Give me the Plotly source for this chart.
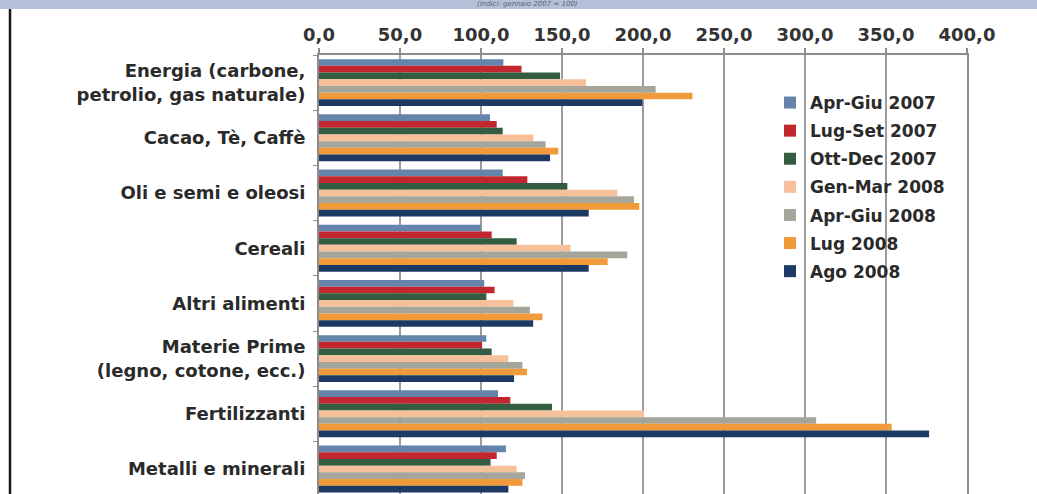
import plotly.graph_objects as go

categories = [
    "Energia (carbone,<br>petrolio, gas naturale)",
    "Cacao, Tè, Caffè",
    "Oli e semi e oleosi",
    "Cereali",
    "Altri alimenti",
    "Materie Prime<br>(legno, cotone, ecc.)",
    "Fertilizzanti",
    "Metalli e minerali",
]

series_names = ["Apr-Giu 2007", "Lug-Set 2007", "Ott-Dec 2007", "Gen-Mar 2008",
                "Apr-Giu 2008", "Lug 2008", "Ago 2008"]

apr_giu_2007 = [113.8, 105.6, 113.4, 99.8, 102.0, 103.3, 110.5, 115.4]
lug_set_2007 = [125.0, 109.7, 128.6, 106.6, 108.4, 100.7, 118.1, 109.7]
ott_dec_2007 = [148.8, 113.4, 153.3, 122.0, 103.3, 106.6, 143.8, 105.9]
gen_mar_2008 = [164.8, 132.3, 184.2, 155.3, 120.0, 116.9, 200.6, 122.0]
apr_giu_2008 = [207.8, 139.9, 194.4, 190.3, 130.2, 125.6, 306.9, 127.2]
lug_2008 = [230.5, 147.7, 197.7, 178.2, 137.9, 128.4, 353.5, 125.6]
ago_2008 = [199.6, 142.6, 166.5, 166.5, 132.2, 120.4, 376.6, 116.9]

series_values = [apr_giu_2007, lug_set_2007, ott_dec_2007, gen_mar_2008,
                 apr_giu_2008, lug_2008, ago_2008]
colors = ["#6484ab", "#c2272f", "#335c40", "#f5c09a", "#a4a69b", "#f09a3a", "#1c3a63"]

x_ticks = [0, 50, 100, 150, 200, 250, 300, 350, 400]

W, H = 1037, 494
L, R, T = 319, 70, 55
plot_w = W - L - R
plot_h = H - T
band = 55.2

FONT = "DejaVu Sans"

fig = go.Figure()
for name, vals, col in zip(series_names, series_values, colors):
    fig.add_trace(go.Bar(
        y=categories, x=vals, name=name, orientation="h",
        marker=dict(color=col, line=dict(width=0)),
        legendgroup=name,
    ))

def px_x(p):
    return (p - L) / plot_w

def px_y(p):
    return 1 - (p - T) / plot_h

fig.update_layout(
    width=W, height=H,
    margin=dict(l=L, r=R, t=T, b=0),
    paper_bgcolor="white", plot_bgcolor="white",
    barmode="group", bargap=0.15, bargroupgap=0,
    separators=",.",
    font=dict(family=FONT, size=17, color="#2a2a2a", weight="bold"),
    legend=dict(
        x=px_x(770), y=px_y(85), xanchor="left", yanchor="top",
        bgcolor="rgba(255,255,255,0)",
        font=dict(family=FONT, size=17, color="#2a2a2a", weight="bold"),
        traceorder="grouped", tracegroupgap=3,
        itemwidth=30,
    ),
    xaxis=dict(
        side="top", range=[0, 400], tickvals=x_ticks, tickformat=".1f",
        showgrid=True, gridcolor="#9c9c9c", gridwidth=1.5,
        showline=True, linecolor="#8c8c8c", linewidth=2,
        ticks="outside", ticklen=5, tickcolor="#8c8c8c", tickwidth=1.5,
        tickfont=dict(family=FONT, size=18, color="#333333", weight="bold"),
        zeroline=False, fixedrange=True,
    ),
    yaxis=dict(
        type="category", range=[-0.5 + plot_h / band, -0.5],
        tickson="boundaries", ticks="outside", ticklen=4, tickcolor="#8c8c8c",
        showline=True, linecolor="#8c8c8c", linewidth=2, mirror=True,
        showgrid=False, ticklabelstandoff=8,
        tickfont=dict(family=FONT, size=18, color="#2a2a2a", weight="bold"),
    ),
    showlegend=True,
)

# header band and left border line
fig.add_shape(type="rect", xref="paper", yref="paper",
              x0=px_x(0), x1=px_x(W), y0=px_y(9), y1=px_y(0),
              fillcolor="#b4c0d8", line=dict(width=0), layer="above")
fig.add_shape(type="line", xref="paper", yref="paper",
              x0=px_x(10), x1=px_x(10), y0=px_y(9), y1=px_y(H + 5),
              line=dict(color="#1a1a1a", width=2.5))
fig.add_annotation(text="(Indici: gennaio 2007 = 100)", xref="paper", yref="paper",
                   x=px_x(527), y=px_y(4.5), xanchor="center", yanchor="middle",
                   showarrow=False,
                   font=dict(family=FONT, size=7, color="#5a6070", style="italic",
                             weight="normal"))

fig.write_html("out.html")
